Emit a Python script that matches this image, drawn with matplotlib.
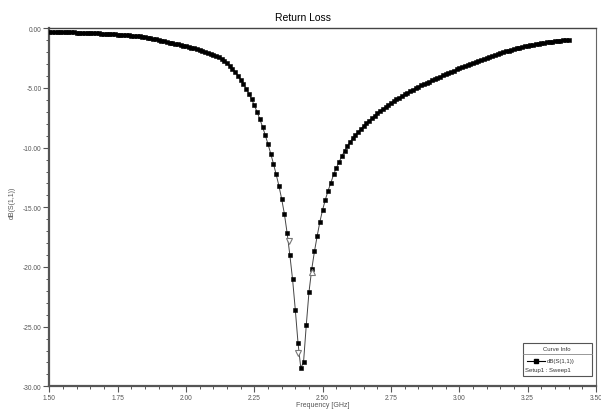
import matplotlib
matplotlib.use("Agg")
import matplotlib.pyplot as plt
from matplotlib.ticker import MultipleLocator, FormatStrFormatter
from matplotlib.lines import Line2D
from matplotlib.patches import Rectangle

plt.rcParams['font.family'] = ['Liberation Sans', 'DejaVu Sans']
plt.rcParams['axes.unicode_minus'] = False

# Frequency sweep (GHz), 0.01 GHz steps from 1.50 to 3.40
freq_start = 1.50
freq_step = 0.01

s11_db = [
    # 1.50 - 1.59
    -0.30, -0.30, -0.31, -0.31, -0.32, -0.32, -0.33, -0.34, -0.34, -0.35,
    # 1.60 - 1.69
    -0.36, -0.37, -0.37, -0.38, -0.39, -0.40, -0.41, -0.42, -0.43, -0.44,
    # 1.70 - 1.79
    -0.45, -0.47, -0.48, -0.49, -0.51, -0.52, -0.54, -0.56, -0.57, -0.59,
    # 1.80 - 1.89
    -0.61, -0.63, -0.66, -0.68, -0.71, -0.74, -0.78, -0.83, -0.88, -0.93,
    # 1.90 - 1.99
    -0.98, -1.03, -1.08, -1.14, -1.20, -1.25, -1.30, -1.35, -1.40, -1.45,
    # 2.00 - 2.09
    -1.50, -1.55, -1.61, -1.67, -1.73, -1.80, -1.87, -1.95, -2.03, -2.12,
    # 2.10 - 2.19
    -2.21, -2.31, -2.42, -2.55, -2.73, -2.93, -3.15, -3.40, -3.67, -3.97,
    # 2.20 - 2.29
    -4.30, -4.66, -5.05, -5.48, -5.95, -6.45, -7.00, -7.60, -8.25, -8.95,
    # 2.30 - 2.39
    -9.70, -10.50, -11.35, -12.25, -13.20, -14.30, -15.55, -17.15, -19.00, -21.05,
    # 2.40 - 2.49
    -23.60, -26.40, -28.45, -28.00, -24.90, -22.10, -20.20, -18.70, -17.40, -16.20,
    # 2.50 - 2.59
    -15.20, -14.35, -13.60, -12.95, -12.25, -11.70, -11.20, -10.72, -10.28, -9.90,
    # 2.60 - 2.69
    -9.55, -9.20, -8.93, -8.67, -8.42, -8.18, -7.95, -7.73, -7.52, -7.32,
    # 2.70 - 2.79
    -7.12, -6.93, -6.75, -6.58, -6.41, -6.25, -6.09, -5.94, -5.80, -5.66,
    # 2.80 - 2.89
    -5.52, -5.39, -5.26, -5.13, -5.01, -4.89, -4.78, -4.67, -4.56, -4.46,
    # 2.90 - 2.99
    -4.36, -4.26, -4.15, -4.04, -3.93, -3.82, -3.72, -3.63, -3.54, -3.45,
    # 3.00 - 3.09
    -3.36, -3.27, -3.17, -3.08, -2.99, -2.90, -2.81, -2.72, -2.63, -2.55,
    # 3.10 - 3.19
    -2.47, -2.39, -2.32, -2.24, -2.16, -2.09, -2.01, -1.94, -1.87, -1.80,
    # 3.20 - 3.29
    -1.73, -1.67, -1.61, -1.56, -1.50, -1.45, -1.40, -1.36, -1.32, -1.28,
    # 3.30 - 3.40
    -1.24, -1.21, -1.17, -1.14, -1.12, -1.09, -1.06, -1.04, -1.01, -0.99, -0.97,
]
freq = [round(freq_start + i * freq_step, 2) for i in range(len(s11_db))]

# Marker triangles (m1, m2, m3)
mark_freq = [2.377, 2.411, 2.460]
mark_db = [-17.85, -27.18, -20.39]
mark_shape = ['v', 'v', '^']

xticks = [1.50, 1.75, 2.00, 2.25, 2.50, 2.75, 3.00, 3.25, 3.50]
yticks = [0.0, -5.0, -10.0, -15.0, -20.0, -25.0, -30.0]

W, H = 601, 410
fig = plt.figure(figsize=(W / 100, H / 100), dpi=100)
ax = fig.add_axes([49.3 / W, 1 - 387.3 / H, (596 - 49.3) / W, (387.3 - 29.3) / H])

ax.plot(freq, s11_db, color='#444444', lw=0.7, marker='s', ms=2.3,
        mfc='black', mec='black', mew=0.4, zorder=3)
for f, d, m in zip(mark_freq, mark_db, mark_shape):
    ax.plot([f], [d], marker=m, ms=5, mfc='white', mec='#777777', mew=0.8,
            ls='none', zorder=4)

ax.set_xlim(1.5, 3.5)
ax.set_ylim(-30, 0)
ax.set_xticks(xticks)
ax.set_yticks(yticks)
ax.xaxis.set_minor_locator(MultipleLocator(0.05))
ax.yaxis.set_minor_locator(MultipleLocator(1.0))
ax.xaxis.set_major_formatter(FormatStrFormatter('%.2f'))
ax.yaxis.set_major_formatter(FormatStrFormatter('%.2f'))
ax.tick_params(which='major', length=4, width=0.8, color='#555555',
               labelsize=4.8, labelcolor='#555555', direction='out', pad=1.5)
ax.tick_params(which='minor', length=2.5, width=0.7, color='#555555', direction='out')

for s in ['left', 'bottom']:
    ax.spines[s].set_color('#555555')
    ax.spines[s].set_linewidth(1.6)
ax.spines['top'].set_color('#444444')
ax.spines['top'].set_linewidth(1.0)
ax.spines['right'].set_color('#666666')
ax.spines['right'].set_linewidth(0.8)

fig.text(303 / W, 1 - 18 / H, 'Return Loss', ha='center', va='center',
         fontsize=7.5, color='black')
fig.text(323 / W, 1 - 406 / H, 'Frequency [GHz]', ha='center', va='center',
         fontsize=5.0, color='#555555')
fig.text(12 / W, 1 - 203 / H, 'dB(S(1,1))', ha='center', va='center',
         rotation=90, fontsize=5.0, color='#555555')

# Curve Info box
bx0, bx1, by0, by1 = 523, 592, 344, 377
fig.add_artist(Rectangle((bx0 / W, 1 - by1 / H), (bx1 - bx0) / W, (by1 - by0) / H,
                         transform=fig.transFigure, fc='white', ec='#555555', lw=0.8))
fig.add_artist(Line2D([bx0 / W, bx1 / W], [1 - 355 / H, 1 - 355 / H],
                      transform=fig.transFigure, color='#888888', lw=0.6))
fig.text(557 / W, 1 - 349.5 / H, 'Curve Info', ha='center', va='center',
         fontsize=4.3, color='#333333')
fig.add_artist(Line2D([527 / W, 536 / W, 545 / W], [1 - 362 / H] * 3,
                      transform=fig.transFigure, color='black', lw=0.8,
                      marker='s', ms=2.6, markevery=[1],
                      mfc='black', mec='black'))
fig.text(547 / W, 1 - 362 / H, 'dB(S(1,1))', ha='left', va='center',
         fontsize=4.3, color='#333333')
fig.text(525 / W, 1 - 371 / H, 'Setup1 : Sweep1', ha='left', va='center',
         fontsize=4.3, color='#333333')

fig.savefig('out.png', dpi=100)
